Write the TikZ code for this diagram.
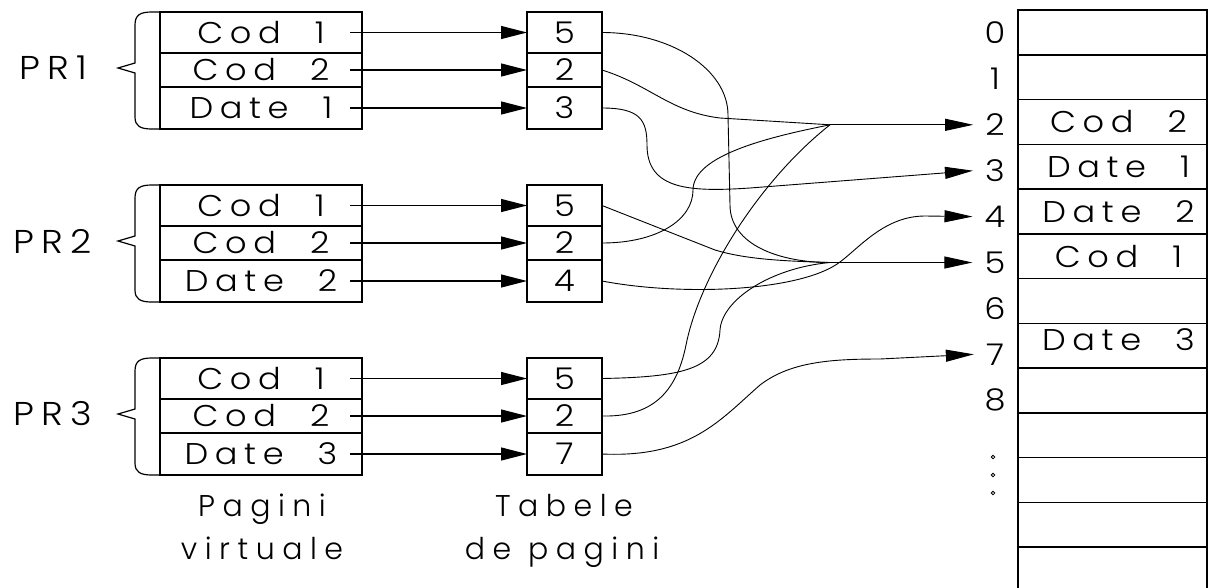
\documentclass[tikz,border=0pt]{standalone}
\usepackage{fontspec}
\newfontfamily\cadfont{Poppins}[UprightFont=* Light,LetterSpace=25]
\newfontfamily\cadcell{Poppins}[UprightFont=* Light,LetterSpace=22,FakeStretch=1.12]
\usetikzlibrary{positioning,arrows.meta}
\newcommand\cadtxt{\cadcell\fontsize{30}{43}\selectfont\spaceskip=34pt\relax}
\newcommand\cadnotetxt{\cadfont\fontsize{30}{43}\selectfont\spaceskip=17pt\relax}

\begin{document}
\begin{tikzpicture}[x=1pt,y=-1pt,
    vcell/.style={draw,line width=1.5pt,outer sep=0pt,inner sep=0pt,minimum width=202pt,font=\cadtxt},
    tcell/.style={vcell,minimum width=75pt},
    mcell/.style={draw,line width=1.5pt,outer sep=0pt,minimum width=189pt,minimum height=44.75pt,anchor=north west},
    map/.style={line width=1.2pt,-{Triangle[length=26pt,width=13pt]}},
    wire/.style={line width=0.9pt},
    arr/.style={-{Triangle[length=28pt,width=12pt]}},
    prlabel/.style={font=\cadcell\fontsize{33}{40}\selectfont},
    note/.style={font=\cadnotetxt,anchor=base}]
    \useasboundingbox (0,0) rectangle (1209,587);
    % PR1
    \node[vcell,minimum height=41pt,anchor=north west] (v1a) at (160,12) {Cod 1};
    \node[vcell,minimum height=34pt,below=0pt of v1a] (v1b) {Cod 2};
    \node[vcell,minimum height=42pt,below=0pt of v1b] (v1c) {Date 1};
    \node[tcell,minimum height=41pt,anchor=north west] (t1a) at (527,12) {5};
    \node[tcell,minimum height=34pt,below=0pt of t1a] (t1b) {2};
    \node[tcell,minimum height=42pt,below=0pt of t1b] (t1c) {3};
    \node[prlabel] (pr1) at (53,68) {PR1};
    % PR2
    \node[vcell,minimum height=41pt,anchor=north west] (v2a) at (160,185) {Cod 1};
    \node[vcell,minimum height=34pt,below=0pt of v2a] (v2b) {Cod 2};
    \node[vcell,minimum height=42pt,below=0pt of v2b] (v2c) {Date 2};
    \node[tcell,minimum height=41pt,anchor=north west] (t2a) at (527,185) {5};
    \node[tcell,minimum height=34pt,below=0pt of t2a] (t2b) {2};
    \node[tcell,minimum height=42pt,below=0pt of t2b] (t2c) {4};
    \node[prlabel] (pr2) at (53,241) {PR2};
    % PR3
    \node[vcell,minimum height=41pt,anchor=north west] (v3a) at (160,358) {Cod 1};
    \node[vcell,minimum height=34pt,below=0pt of v3a] (v3b) {Cod 2};
    \node[vcell,minimum height=42pt,below=0pt of v3b] (v3c) {Date 3};
    \node[tcell,minimum height=41pt,anchor=north west] (t3a) at (527,358) {5};
    \node[tcell,minimum height=34pt,below=0pt of t3a] (t3b) {2};
    \node[tcell,minimum height=42pt,below=0pt of t3b] (t3c) {7};
    \node[prlabel] (pr3) at (53,414) {PR3};
    % braces
    \foreach \s in {0,173,346}
      \draw[line width=1.2pt,shift={(0,\s)}] (160,12) -- (152,12) .. controls (140,12) and (135,15) .. (135,25) -- (135,63) -- (118,68) -- (135,73) -- (135,117) .. controls (135,126) and (140,129) .. (152,129) -- (160,129);
    % virtual page -> page table
    \foreach \p in {1,2,3}
      \foreach \r in {a,b,c}
        \draw[map] ([xshift=-12pt]v\p\r.east) -- (t\p\r.west);
    \node[note] (pv1) at (262,516) {Pagini};
    \node[note] (pv2) at (262,559) {virtuale};
    \node[note] (tp1) at (564,516) {Tabele};
    \node[note] (tp2) at (562,559) {de pagini};
    % physical memory
    \foreach \i in {0,...,12}
      \node[mcell] (m\i) at (1018,10+44.75*\i) {};
    \foreach \i in {0,...,8}
      \node[font=\cadtxt,inner xsep=12pt] (n\i) at (995,33+45.9*\i) {\i};
    \foreach \y in {457,475,493}
      \draw[line width=0.8pt] (993,\y) circle (1.8);
    \node[font=\cadtxt] (c2) at ([xshift=6pt]m2.center) {Cod 2};
    \node[font=\cadtxt] (c3) at ([xshift=6pt]m3.center) {Date 1};
    \node[font=\cadtxt] (c4) at ([xshift=6pt]m4.center) {Date 2};
    \node[font=\cadtxt] (c5) at ([xshift=6pt]m5.center) {Cod 1};
    \node[font=\cadtxt] (c7) at ([xshift=6pt,yshift=6pt]m7.center) {Date 3};
    % page table -> memory
    \coordinate (j2) at (830,0 |- n2.west);
    \coordinate (j5) at (830,0 |- n5.west);
    \draw[wire] (t1a.east) .. controls +(70,0) and +(0,-45) .. (728,115) -- (730,205) .. controls +(0,40) and +(-50,0) .. (j5); % PR1 page 5
    \draw[wire] (t1b.east) .. controls (650,85) and (670,112) .. (720,118) -- (j2); % PR1 page 2
    \draw[wire,arr] (t1c.east) .. controls (640,108) and (647,120) .. (647,145) .. controls (647,190) and (690,192) .. (750,188) -- (n3.west); % PR1 page 3
    \draw[wire] (t2a.east) -- (715,250) .. controls (745,259) and (780,261) .. (j5); % PR2 page 5
    \draw[wire] (t2b.east) .. controls +(55,0) and +(0,30) .. (693,190) .. controls +(0,-35) and +(-60,12) .. (j2); % PR2 page 2
    \draw[wire,arr] (t2c.east) .. controls (680,296) and (800,292) .. (840,262) .. controls (860,247) and (885,216) .. (925,216) -- (n4.west); % PR2 page 4
    \draw[wire] (t3a.east) .. controls (680,377) and (718,370) .. (720,330) .. controls (722,300) and (770,268) .. (j5); % PR3 page 5
    \draw[wire] (t3b.east) .. controls (650,417) and (676,395) .. (686,345) .. controls (700,275) and (760,180) .. (j2); % PR3 page 2
    \draw[wire,arr] (t3c.east) .. controls (690,458) and (720,420) .. (760,385) .. controls (790,362) and (830,359) .. (880,359) -- (n7.west); % PR3 page 7
    \draw[wire,arr] (j2) -- (n2.west);
    \draw[wire,arr] (j5) -- (n5.west);
\end{tikzpicture}
\end{document}
